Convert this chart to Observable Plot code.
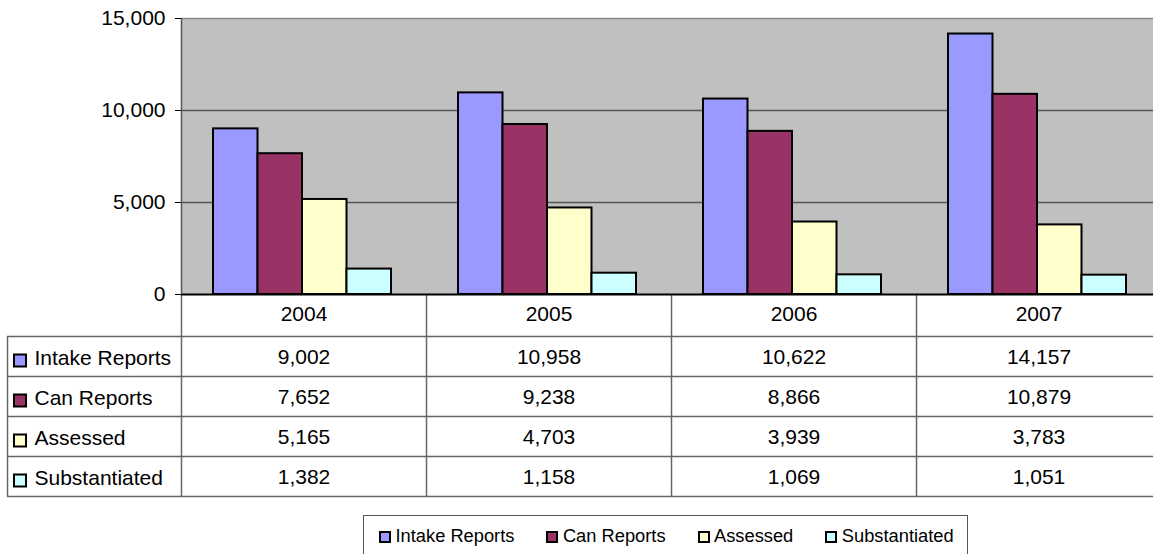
<!DOCTYPE html>
<html>
<head>
<meta charset="utf-8">
<script src="https://cdn.jsdelivr.net/npm/d3@7"></script>
<script src="https://cdn.jsdelivr.net/npm/@observablehq/plot@0.6"></script>
<style>
html, body { margin: 0; padding: 0; background: #fff; overflow: hidden; }
#root { position: relative; width: 1153px; height: 554px; overflow: hidden; font-family: "Liberation Sans", Arial, sans-serif; }
#root svg { position: absolute; left: 0; max-width: none; }
#legend { position: absolute; left: 363px; top: 515px; width: 605px; height: 60px; box-sizing: border-box;
  border: 1.5px solid #555; display: flex; gap: 32px; padding: 10px 0 0 15px;
  align-items: flex-start; font-size: 18.3px; line-height: 20px; color: #000; }
#legend .item { display: flex; align-items: center; white-space: nowrap; }
#legend .sw { width: 12px; height: 12px; box-sizing: border-box; border: 2px solid #000; margin-right: 4.5px; margin-top: 2px; }
</style>
</head>
<body>
<div id="root"></div>
<script>
// ---- data ----
const years = ["2004", "2005", "2006", "2007"];
const series = ["Intake Reports", "Can Reports", "Assessed", "Substantiated"];
const intakeReports = [9002, 10958, 10622, 14157];
const canReports = [7652, 9238, 8866, 10879];
const assessed = [5165, 4703, 3939, 3783];
const substantiated = [1382, 1158, 1069, 1051];
const colors = ["#9999ff", "#993366", "#ffffcc", "#ccffff"];
const yTicks = [0, 5000, 10000, 15000];

const seriesValues = [intakeReports, canReports, assessed, substantiated];
const rows = series.flatMap((s, i) => years.map((y, j) => ({series: s, year: y, value: seriesValues[i][j]})));

// ---- layout ----
const W = 1161, left = 181;
const bw = (W - left) / years.length;   // band width
const groupOffset = 32, barW = 44.5;
const rowH = 40, headH = 42, labelW = 174;
const font = `"Liberation Sans", Arial, sans-serif`;
const fmt = d3.format(",");
const gridColor = "#666";

const root = document.getElementById("root");

// ---- table (below chart) ----
const table = Plot.plot({
  width: W, height: headH + rowH * series.length + 1,
  marginLeft: left, marginRight: 0, marginTop: headH, marginBottom: 1,
  style: {background: "#fff", fontFamily: font, fontSize: "21px", color: "#000", overflow: "visible", maxWidth: "none"},
  x: {type: "band", domain: years, padding: 0, axis: null},
  y: {type: "band", domain: series, padding: 0, axis: null},
  color: {domain: series, range: colors},
  marks: [
    Plot.ruleY(series, {y: d => d, dy: -rowH / 2, insetLeft: -labelW, stroke: gridColor, strokeWidth: 1.5}),
    Plot.ruleY([series[series.length - 1]], {y: d => d, dy: rowH / 2, insetLeft: -labelW, stroke: gridColor, strokeWidth: 1.5}),
    Plot.ruleX(years, {x: d => d, dx: -bw / 2, insetTop: -headH, stroke: gridColor, strokeWidth: 1.5}),
    Plot.ruleX([years[0]], {x: d => d, dx: -bw / 2 - labelW, stroke: gridColor, strokeWidth: 1.5}),
    Plot.text(years, {x: d => d, frameAnchor: "top", lineAnchor: "middle", dy: -22, fontSize: 21}),
    Plot.text(rows, {x: "year", y: "series", text: d => fmt(d.value), fontSize: 21, dy: 1}),
    Plot.dot(series, {y: d => d, frameAnchor: "left", dx: -161.5, symbol: "square", r: 6.8, fill: d => d, stroke: "#000", strokeWidth: 2, dy: 4}),
    Plot.text(series, {y: d => d, frameAnchor: "left", dx: -147, textAnchor: "start", fontSize: 21, dy: 2})
  ]
});
table.style.top = "294px";
root.appendChild(table);

// ---- chart ----
const chart = Plot.plot({
  width: W, height: 300,
  marginLeft: left, marginRight: 0, marginTop: 18, marginBottom: 6,
  style: {background: "transparent", fontFamily: font, fontSize: "21px", color: "#000", overflow: "visible", maxWidth: "none"},
  x: {type: "band", domain: years, padding: 0, axis: null},
  y: {domain: [0, 15000], label: null},
  color: {domain: series, range: colors},
  marks: [
    Plot.frame({fill: "#c0c0c0"}),
    Plot.ruleY(yTicks.slice(1, -1), {stroke: "#555", strokeWidth: 1.5}),
    Plot.ruleY([yTicks[yTicks.length - 1]], {stroke: "#888", strokeWidth: 1.5}),
    ...series.map((s, i) => Plot.barY(rows.filter(d => d.series === s), {
      x: "year", y: "value", fill: "series", stroke: "#000", strokeWidth: 2,
      insetLeft: groupOffset + i * barW, insetRight: bw - groupOffset - (i + 1) * barW
    })),
    Plot.ruleY([0], {stroke: "#000", strokeWidth: 2}),
    Plot.ruleX([years[0]], {x: d => d, y1: 0, y2: 15000, dx: -bw / 2, stroke: "#555", strokeWidth: 1.5}),
    Plot.axisY({ticks: yTicks, tickFormat: fmt, tickSize: 6, tickPadding: 10, fontSize: 21, label: null})
  ]
});
chart.style.top = "0px";
root.appendChild(chart);

// ---- legend ----
const legend = document.createElement("div");
legend.id = "legend";
series.forEach((s, i) => {
  const item = document.createElement("div");
  item.className = "item";
  const sw = document.createElement("span");
  sw.className = "sw";
  sw.style.background = colors[i];
  item.appendChild(sw);
  item.appendChild(document.createTextNode(s));
  legend.appendChild(item);
});
root.appendChild(legend);
</script>
</body>
</html>
